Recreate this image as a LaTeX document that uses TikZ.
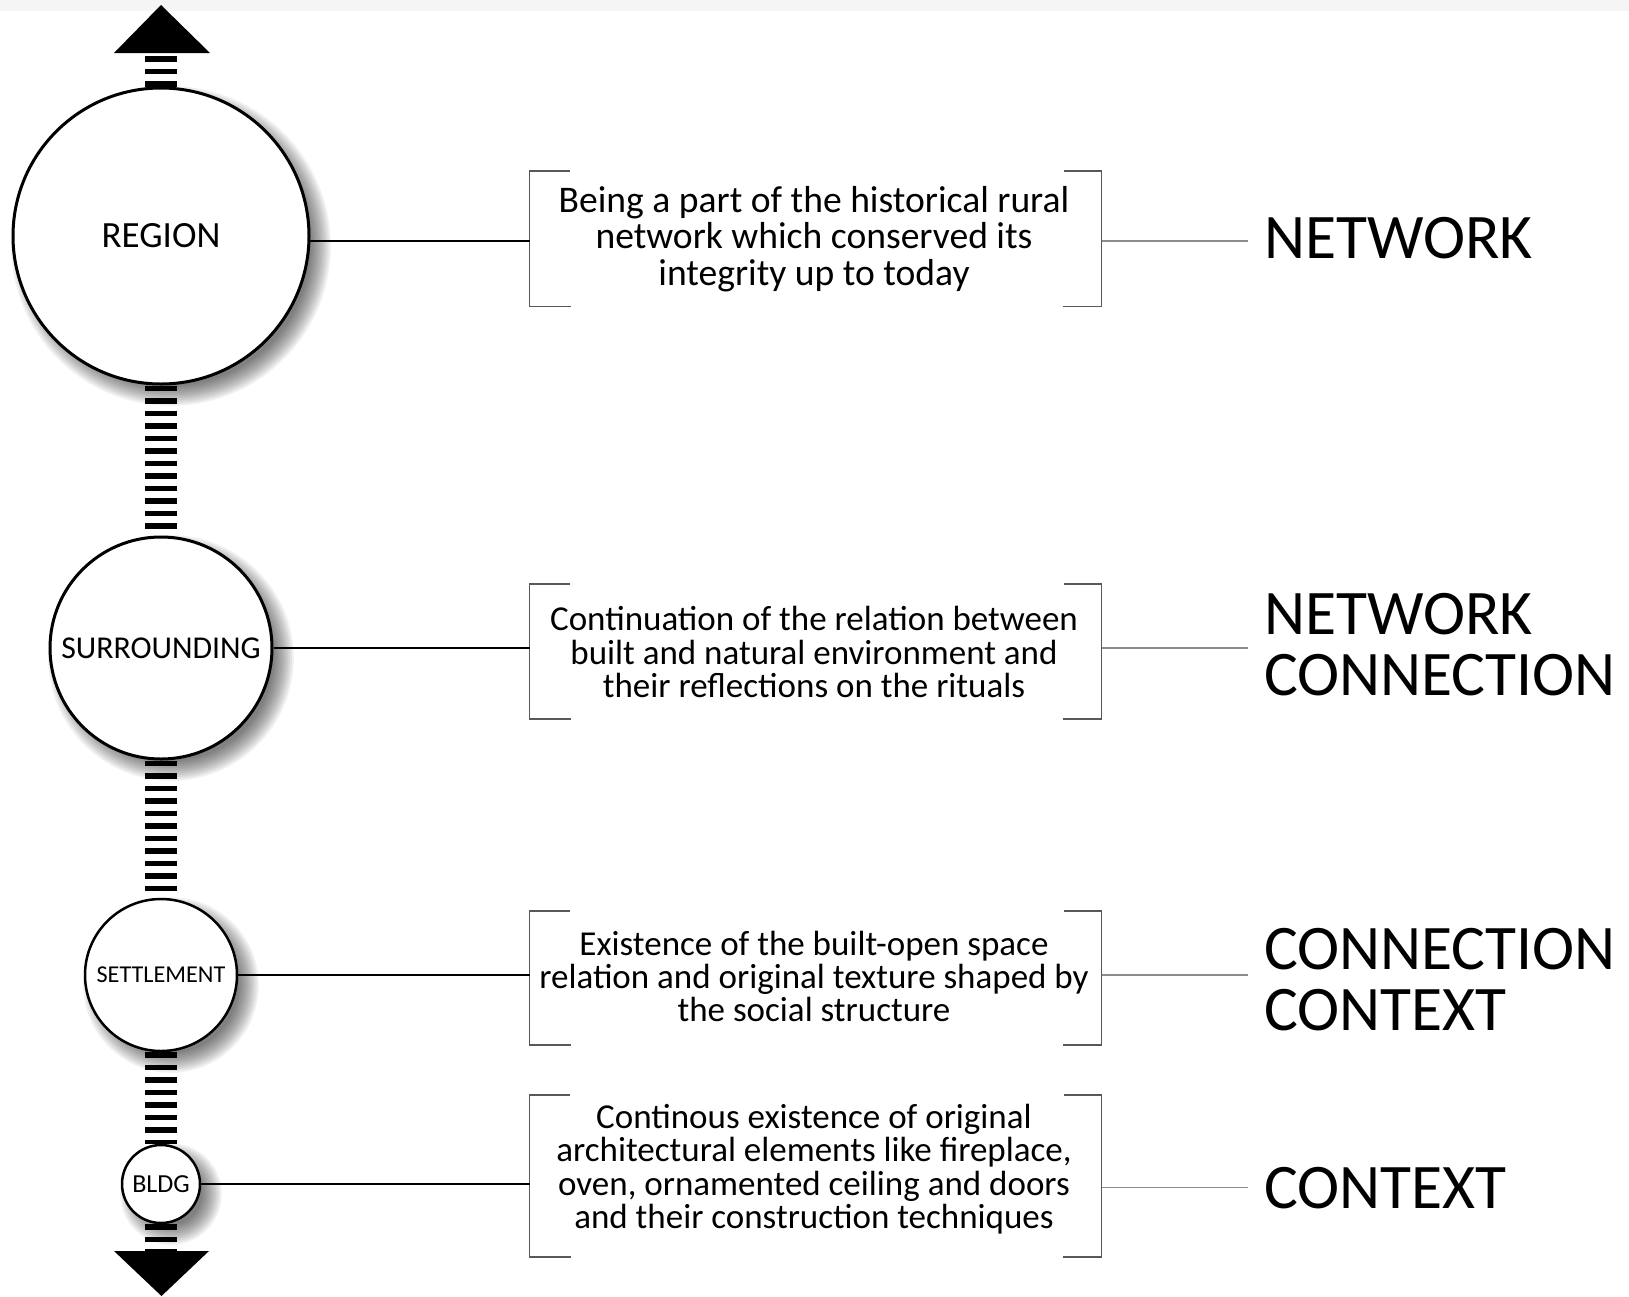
\documentclass[tikz,border=0pt]{standalone}
\usepackage{fontspec}
\setmainfont{Carlito}
\usetikzlibrary{calc,backgrounds}
\newcommand\circshadow[3]{%
  \foreach \k in {0,...,11}{\fill[black,opacity=0.055] (#1+10,#2+10) circle[radius={(#3-8+1.8*\k)*1pt}];}}
\newcommand\drawbrackets[1]{%
  \draw[brk] ([xshift=40pt]#1.north west) -- (#1.north west) -- (#1.south west) -- ([xshift=41pt]#1.south west);
  \draw[brk] ([xshift=-38pt]#1.north east) -- (#1.north east) -- (#1.south east) -- ([xshift=-39pt]#1.south east);}
\begin{document}
\begin{tikzpicture}[x=1pt,y=-1pt,
  lvl/.style={circle, draw=black, line width=3pt, fill=white, inner sep=0pt},
  desc/.style={align=center, inner sep=0pt, font=\fontsize{35}{33.4}\selectfont},
  bracketbox/.style={minimum width=572pt, inner sep=0pt, outer sep=0pt},
  brk/.style={draw=black!65, line width=1.5pt},
  lconn/.style={draw=black, line width=2.5pt},
  rconn/.style={draw=black!45, line width=1.5pt, shorten >=16pt},
  biglabel/.style={anchor=west, align=left, inner sep=0pt, font=\fontsize{63.5}{61}\selectfont},
  spine/.style={draw=black, line width=32pt, dash pattern=on 5.5pt off 7pt}
]
\useasboundingbox (0,0) rectangle (1629,1296);
\fill[black!4] (0,0) rectangle (1629,11);

% level circles
\node[lvl, minimum size=296pt, font=\fontsize{37}{37}\selectfont] (region) at (161,236) {REGION};
\node[lvl, minimum size=222pt, font=\fontsize{31.8}{32}\selectfont] (surr) at (161,648) {SURROUNDING};
\node[lvl, minimum size=152pt, line width=2.5pt, font=\fontsize{24.2}{24}\selectfont] (settle) at (161,975) {SETTLEMENT};
\node[lvl, minimum size=78pt, line width=2.5pt, font=\fontsize{26}{26}\selectfont] (bldg) at (161,1184) {BLDG};

% arrow heads
\coordinate (topbase) at (161,53);
\coordinate (botbase) at (161,1251);
\fill[black] (114,53) -- (210,53) -- (161,5) -- cycle;
\fill[black] (114,1251) -- (209,1251) -- (161.5,1296) -- cycle;

\begin{scope}[on background layer]
  \circshadow{161}{236}{148}
  \circshadow{161}{648}{111}
  \circshadow{161}{975}{76}
  \circshadow{161}{1184}{39}
  \draw[spine] (region.north) -- (topbase);
  \draw[spine] (region.south) -- (surr.north);
  \draw[spine] (surr.south) -- (settle.north);
  \draw[spine] (settle.south) -- (bldg.north);
  \draw[spine] (bldg.south) -- (botbase);
\end{scope}

% bracket boxes
\node[bracketbox, minimum height=135.5pt] (box1) at (815.5,238.75) {};
\node[bracketbox, minimum height=135pt] (box2) at (815.5,651.5) {};
\node[bracketbox, minimum height=134pt] (box3) at (815.5,978) {};
\node[bracketbox, minimum height=162pt] (box4) at (815.5,1176) {};
\drawbrackets{box1}
\drawbrackets{box2}
\drawbrackets{box3}
\drawbrackets{box4}

% descriptions
\node[desc, font=\fontsize{37.6}{36.4}\selectfont] (d1) at (814,239) {Being a part of the historical rural\\network which conserved its\\integrity up to today};
\node[desc] (d2) at (814,652) {Continuation of the relation between\\built and natural environment and\\their reflections on the rituals};
\node[desc] (d3) at (814,976.5) {Existence of the built-open space\\relation and original texture shaped by\\the social structure};
\node[desc] (d4) at (814,1169) {Continous existence of original\\architectural elements like fireplace,\\oven, ornamented ceiling and doors\\and their construction techniques};

% right labels
\node[biglabel] (lab1) at (1264,238) {NETWORK};
\node[biglabel] (lab2) at (1264,645) {NETWORK\\CONNECTION};
\node[biglabel] (lab3) at (1264,980) {CONNECTION\\CONTEXT};
\node[biglabel] (lab4) at (1264,1187.6) {CONTEXT};

% connectors
\draw[lconn] (region.-2) -- (region.-2 -| box1.west);
\draw[lconn] (surr.east) -- (surr.east -| box2.west);
\draw[lconn] (settle.east) -- (settle.east -| box3.west);
\draw[lconn] (bldg.east) -- (bldg.east -| box4.west);
\draw[rconn] (region.-2 -| box1.east) -- (region.-2 -| lab1.west);
\draw[rconn] (surr.east -| box2.east) -- (surr.east -| lab2.west);
\draw[rconn] (settle.east -| box3.east) -- (settle.east -| lab3.west);
\draw[rconn] (lab4.west -| box4.east) -- (lab4.west);
\end{tikzpicture}
\end{document}
